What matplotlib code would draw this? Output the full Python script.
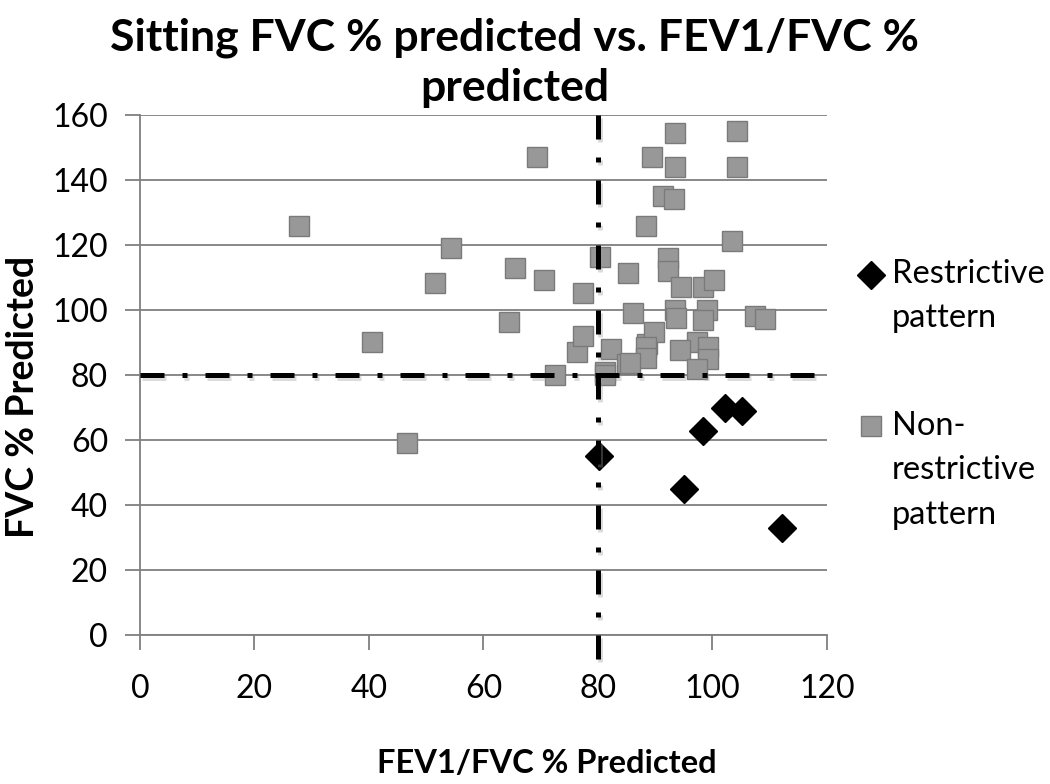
import matplotlib.pyplot as plt
import matplotlib.patheffects as pe
from matplotlib.legend_handler import HandlerLine2D

plt.rcParams['font.family'] = ['Lato', 'DejaVu Sans']

# restrictive pattern (FEV1/FVC % pred, FVC % pred)
restr_x = [80.1, 95.1, 98.3, 102.1, 105.1, 112.2]
restr_y = [55.1, 44.9, 62.9, 69.9, 68.9, 32.8]

# non-restrictive pattern
nonr_x = [27.7, 40.6, 46.6, 51.5, 54.4, 64.5, 65.5, 69.4, 70.5, 72.5,
          76.3, 77.4, 77.3, 80.3, 81.3, 82.3, 85.1, 85.2, 86.2, 88.4,
          88.6, 89.5, 89.7, 91.3, 93.3, 93.4, 93.4, 92.3, 92.3, 94.5,
          93.4, 93.7, 98.4, 100.2, 99.0, 98.4, 97.3, 94.4, 99.2, 99.2,
          97.3, 103.4, 104.2, 104.2, 107.4, 109.2, 88.4, 88.4, 81.3, 85.6]
nonr_y = [125.8, 90.1, 59.0, 108.2, 119.0, 96.2, 112.8, 147.2, 109.2, 80.0,
          87.0, 92.1, 105.1, 116.4, 81.0, 87.9, 83.5, 111.5, 99.0, 125.8,
          89.6, 147.2, 93.2, 135.1, 134.2, 154.4, 144.1, 116.0, 112.0, 107.0,
          100.0, 97.4, 107.2, 109.2, 100.0, 96.9, 90.2, 87.6, 88.7, 84.9,
          81.8, 121.2, 155.2, 144.1, 98.2, 97.1, 88.7, 85.1, 79.9, 83.6]

cutoff = 80
x_ticks = [0, 20, 40, 60, 80, 100, 120]
y_ticks = [0, 20, 40, 60, 80, 100, 120, 140, 160]


class FirstLineHandler(HandlerLine2D):
    # put the legend marker next to the first line of a multi-line label
    def __init__(self, shift, **kw):
        super().__init__(**kw)
        self.shift = shift

    def create_artists(self, legend, orig_handle, xdescent, ydescent,
                       width, height, fontsize, trans):
        arts = super().create_artists(legend, orig_handle, xdescent, ydescent,
                                      width, height, fontsize, trans)
        for a in arts:
            a.set_ydata([y + self.shift for y in a.get_ydata()])
        return arts


fig = plt.figure(figsize=(10.5, 7.84), dpi=100)
ax = fig.add_axes([0.1333, 0.19, 0.6543, 0.6633])

for t in y_ticks:
    ax.axhline(t, color='#7f7f7f', lw=1.3, zorder=1)

sq, = ax.plot(nonr_x, nonr_y, 's', ms=15, color='#989898', mec='#7a7a7a',
              mew=1, label='Non-\nrestrictive\npattern', zorder=3)
dm, = ax.plot(restr_x, restr_y, 'D', ms=14.5, color='black', mec='black',
              label='Restrictive\npattern', zorder=3)

shadow = [pe.SimpleLineShadow(offset=(1.5, -2.5), shadow_color='#999999',
                              alpha=0.35),
          pe.Normal()]
dash = (0, (4.8, 3.6, 1, 3.6))
ax.plot([0, 120], [cutoff, cutoff], color='black', lw=3.6, ls=dash,
        dash_capstyle='butt', zorder=4, path_effects=shadow, clip_on=False)
ax.plot([cutoff, cutoff], [160, -7.5], color='black', lw=3.6, ls=dash,
        dash_capstyle='butt', zorder=4, path_effects=shadow, clip_on=False)

ax.set_xlim(0, 120)
ax.set_ylim(0, 160)
ax.set_xticks(x_ticks)
ax.set_yticks(y_ticks)
ax.tick_params(axis='both', labelsize=23, color='#7f7f7f', width=1.3,
               length=11, direction='out')
ax.tick_params(axis='x', pad=17)
ax.tick_params(axis='y', pad=12)
for s in ['top', 'right']:
    ax.spines[s].set_visible(False)
for s in ['left', 'bottom']:
    ax.spines[s].set_color('#7f7f7f')
    ax.spines[s].set_linewidth(1.3)

fig.text(0.49, 0.978, 'Sitting FVC % predicted vs. FEV1/FVC %\npredicted',
         ha='center', va='top', fontsize=32, fontweight='bold',
         linespacing=1.32)
fig.text(0.521, 0.008, 'FEV1/FVC % Predicted', ha='center', va='bottom',
         fontsize=23.5, fontweight='bold')
fig.text(0.006, 0.494, 'FVC % Predicted', ha='left', va='center',
         rotation=90, fontsize=27, fontweight='bold')

leg = ax.legend([dm, sq], [dm.get_label(), sq.get_label()],
                handler_map={dm: FirstLineHandler(16.0), sq: FirstLineHandler(32.0)},
                loc='center left', bbox_to_anchor=(1.0, 0.463),
                frameon=False, fontsize=23.5, handlelength=0.6,
                handletextpad=0.35, labelspacing=2.37, borderaxespad=0.64)
for t in leg.get_texts():
    t.set_linespacing(1.6)

fig.savefig('out.png', dpi=100)
